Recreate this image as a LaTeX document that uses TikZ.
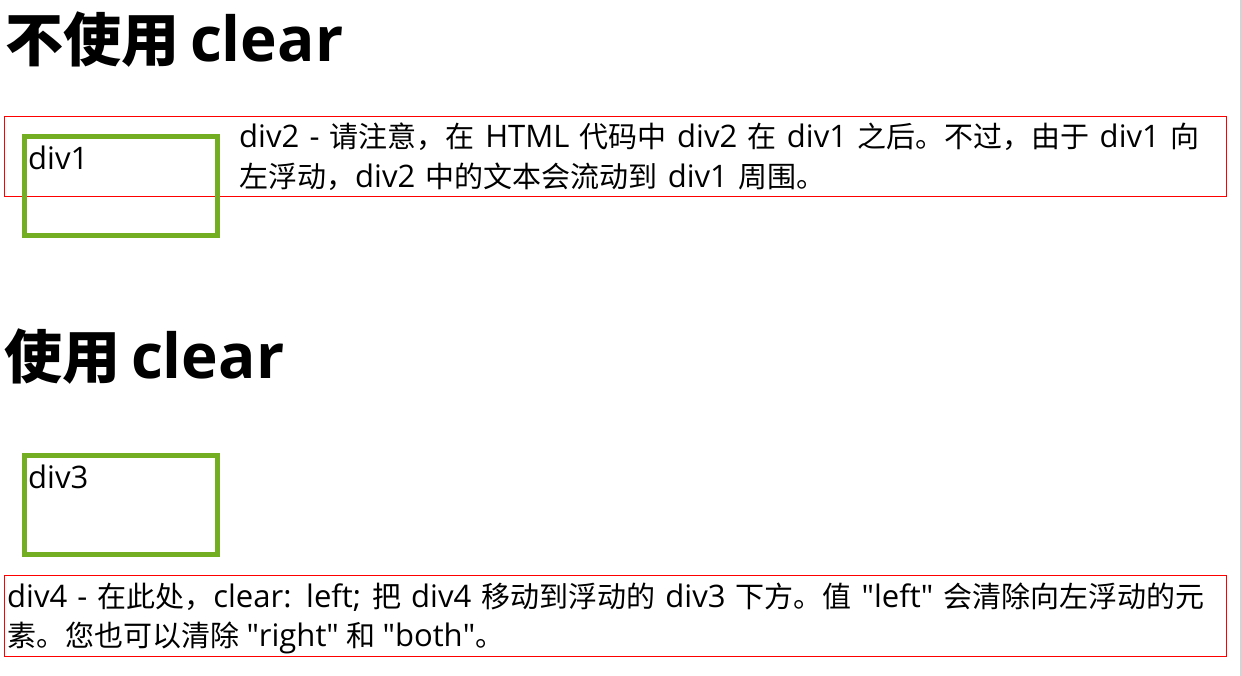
\documentclass[tikz,border=0pt]{standalone}
\usepackage{fontspec}
\setmainfont{Open Sans}[Scale=1.07]
\newfontfamily\cjkfont{Noto Sans CJK SC}
% switch to the CJK font for CJK characters, back to the Latin font otherwise
\XeTeXinterchartokenstate=1
\newXeTeXintercharclass\mycjkclass
\count255="3000
\loop\XeTeXcharclass\count255=\mycjkclass\ifnum\count255<"9FFF\advance\count255 by 1\repeat
\count255="FF00
\loop\XeTeXcharclass\count255=\mycjkclass\ifnum\count255<"FFEF\advance\count255 by 1\repeat
\XeTeXinterchartoks 0 \mycjkclass={\cjkfont}
\XeTeXinterchartoks 4095 \mycjkclass={\cjkfont}
\XeTeXinterchartoks \mycjkclass 0={\rmfamily}
\XeTeXinterchartoks \mycjkclass 4095={\rmfamily}
\definecolor{divgreen}{HTML}{73AD21}
\definecolor{edgegray}{HTML}{D4D4D4}
\tikzset{
  txt/.style={anchor=base west, inner sep=0pt, font=\fontsize{29}{35}\selectfont},
  head/.style={anchor=base west, inner sep=0pt, font=\fontsize{58}{68}\selectfont\bfseries},
  floatbox/.style={draw=divgreen, line width=5pt},
  redbox/.style={draw=red, line width=1pt},
}
\newcommand{\qq}[1]{\textquotedbl#1\textquotedbl}
\newcommand{\spreadline}[2]{\makebox[#1][s]{#2}}
\begin{document}
\begin{tikzpicture}[x=1pt,y=-1pt]
\useasboundingbox (0,0) rectangle (1242,676);
\fill[edgegray] (1240,0) rectangle (1242,676);
% heading 1
\node[head] (h1) at (5,62) {\spreadline{338pt}{不使用 clear}};
% container 1
\draw[redbox] (4.5,116.5) rectangle (1226.5,196.5);
\draw[floatbox] (24.5,136.5) rectangle (217.5,235.5);
\node[txt] (d1) at (28,170) {div1};
\node[txt] (l1) at (239,148) {\spreadline{960pt}{div2 - 请注意，在 HTML 代码中 div2 在 div1 之后。不过，由于 div1 向}};
\node[txt] (l2) at (239,188) {\spreadline{586pt}{左浮动，div2 中的文本会流动到 div1 周围。}};
% heading 2
\node[head] (h2) at (4,378) {\spreadline{280pt}{使用 clear}};
\draw[floatbox] (24.5,455.8) rectangle (217.5,554.2);
\node[txt] (d3) at (28,488) {div3};
\draw[redbox] (4.5,575.5) rectangle (1226.5,656.5);
\node[txt] (l3) at (7,607) {\spreadline{1197pt}{div4 - 在此处，clear: left; 把 div4 移动到浮动的 div3 下方。值 \qq{left} 会清除向左浮动的元}};
\node[txt] (l4) at (7,646) {\spreadline{497pt}{素。您也可以清除 \qq{right} 和 \qq{both}。}};
\end{tikzpicture}
\end{document}
